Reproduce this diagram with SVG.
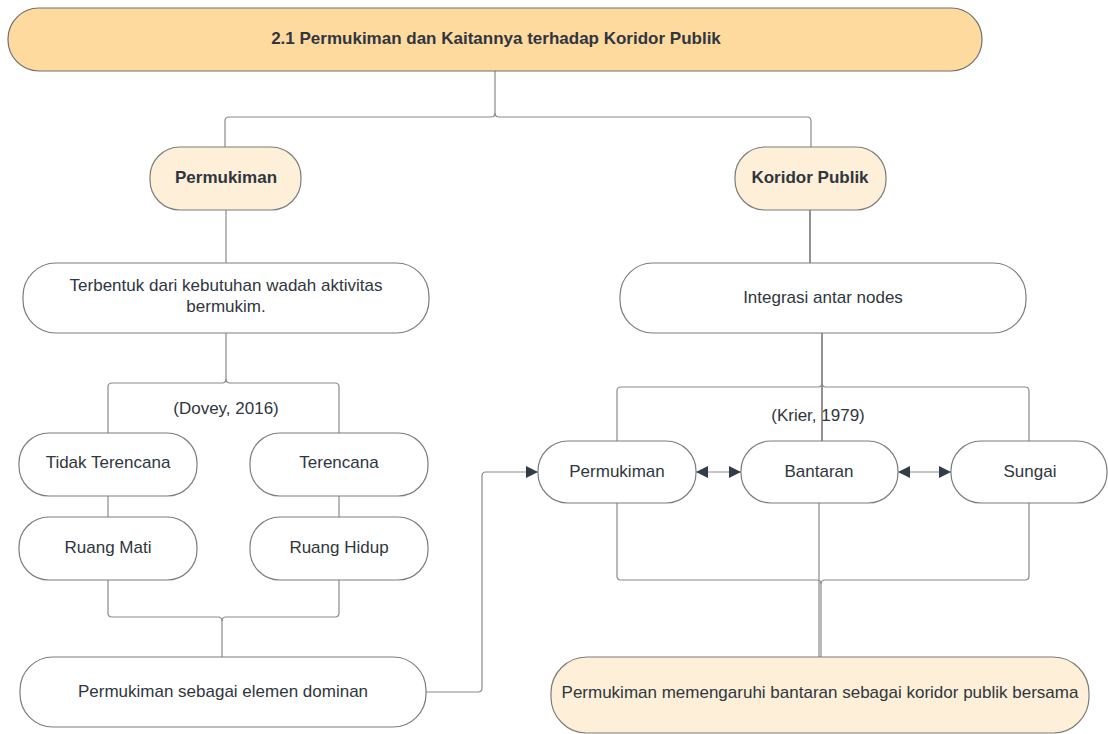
<svg xmlns="http://www.w3.org/2000/svg" width="1108" height="734" viewBox="0 0 1108 734">
  <style>
    .box { fill: #ffffff; stroke: #7d7d7d; stroke-width: 1.2; }
    .head { fill: #FFDA9F; stroke: #6f6f6f; stroke-width: 1.2; }
    .sub { fill: #FEEFD8; stroke: #7d7d7d; stroke-width: 1.2; }
    .t { font-family: "Liberation Sans", Arial, sans-serif; font-size: 17px; fill: #2f3640; text-anchor: middle; }
    .b { font-weight: bold; }
    .ln { fill: none; stroke: #8a8a8a; stroke-width: 1.2; }
    .dk { fill: none; stroke: #4a4a4a; stroke-width: 1.2; }
  </style>
  <defs>
    <marker id="arrow" viewBox="0 0 12 12" refX="12" refY="6" markerWidth="12" markerHeight="12" markerUnits="userSpaceOnUse" orient="auto-start-reverse">
      <path d="M0,0 L12,6 L0,12 z" fill="#333d47"/>
    </marker>
  </defs>
  <rect width="1108" height="734" fill="#ffffff"/>

  <g id="connectors">
    <!-- title to the two main topics -->
    <path class="ln" d="M495,71 V113 Q495,117 491,117 H229 Q225,117 225,121 V147"/>
    <path class="ln" d="M495,113 Q495,117 499,117 H807 Q811,117 811,121 V147"/>
    <!-- left branch -->
    <path class="ln" d="M226,210 V263"/>
    <path class="ln" d="M226,333 V379 Q226,383 222,383 H112 Q108,383 108,387 V433"/>
    <path class="ln" d="M226,379 Q226,383 230,383 H335 Q339,383 339,387 V433"/>
    <path class="ln" d="M108,496 V517"/>
    <path class="ln" d="M339,496 V517"/>
    <path class="ln" d="M108,580 V613 Q108,617 112,617 H218 Q222,617 222,621 V657"/>
    <path class="ln" d="M339,580 V613 Q339,617 335,617 H226 Q222,617 222,621"/>
    <path class="ln" d="M426,692 H478 Q482,692 482,688 V476 Q482,472 486,472 H538" marker-end="url(#arrow)"/>
    <!-- right branch -->
    <path class="dk" d="M810,210 V263"/>
    <path class="dk" d="M822,333 V441"/>
    <path class="ln" d="M617,441 V391 Q617,387 621,387 H818 Q822,387 822,383"/>
    <path class="ln" d="M1029,441 V391 Q1029,387 1025,387 H826 Q822,387 822,383"/>
    <path class="ln" d="M696,472 H741" marker-start="url(#arrow)" marker-end="url(#arrow)"/>
    <path class="ln" d="M898,472 H951" marker-start="url(#arrow)" marker-end="url(#arrow)"/>
    <path class="ln" d="M819,503 V657"/>
    <path class="ln" d="M617,503 V576 Q617,580 621,580 H817 Q821,580 821,584 V657"/>
    <path class="ln" d="M1029,503 V576 Q1029,580 1025,580 H825 Q821,580 821,584"/>
  </g>

  <g id="title">
    <rect class="head" x="8" y="8" width="974" height="63" rx="31"/>
    <text class="t b" x="496" y="44">2.1 Permukiman dan Kaitannya terhadap Koridor Publik</text>
  </g>

  <g id="permukiman">
    <rect class="sub" x="150" y="147" width="151" height="63" rx="30"/>
    <text class="t b" x="226" y="183">Permukiman</text>
  </g>

  <g id="koridor-publik">
    <rect class="sub" x="735" y="147" width="151" height="63" rx="30"/>
    <text class="t b" x="810" y="183">Koridor Publik</text>
  </g>

  <g id="terbentuk">
    <rect class="box" x="23" y="263" width="406" height="70" rx="33"/>
    <text class="t" x="226" y="291">Terbentuk dari kebutuhan wadah aktivitas</text>
    <text class="t" x="226" y="312">bermukim.</text>
  </g>

  <g id="integrasi">
    <rect class="box" x="620" y="263" width="406" height="70" rx="33"/>
    <text class="t" x="823" y="303">Integrasi antar nodes</text>
  </g>

  <g id="dovey-label">
    <text class="t" x="226" y="414">(Dovey, 2016)</text>
  </g>

  <g id="krier-label">
    <text class="t" x="818" y="421">(Krier, 1979)</text>
  </g>

  <g id="tidak-terencana">
    <rect class="box" x="19" y="433" width="178" height="63" rx="30"/>
    <text class="t" x="108" y="468">Tidak Terencana</text>
  </g>

  <g id="terencana">
    <rect class="box" x="250" y="433" width="178" height="63" rx="30"/>
    <text class="t" x="339" y="468">Terencana</text>
  </g>

  <g id="ruang-mati">
    <rect class="box" x="19" y="517" width="178" height="63" rx="30"/>
    <text class="t" x="108" y="553">Ruang Mati</text>
  </g>

  <g id="ruang-hidup">
    <rect class="box" x="250" y="517" width="178" height="63" rx="30"/>
    <text class="t" x="339" y="553">Ruang Hidup</text>
  </g>

  <g id="elemen-dominan">
    <rect class="box" x="20" y="657" width="406" height="70" rx="33"/>
    <text class="t" x="223" y="697">Permukiman sebagai elemen dominan</text>
  </g>

  <g id="node-permukiman">
    <rect class="box" x="538" y="441" width="158" height="62" rx="30"/>
    <text class="t" x="617" y="477">Permukiman</text>
  </g>

  <g id="node-bantaran">
    <rect class="box" x="741" y="441" width="157" height="62" rx="30"/>
    <text class="t" x="819" y="477">Bantaran</text>
  </g>

  <g id="node-sungai">
    <rect class="box" x="951" y="441" width="156" height="62" rx="30"/>
    <text class="t" x="1030" y="477">Sungai</text>
  </g>

  <g id="kesimpulan">
    <rect class="sub" x="551" y="657" width="538" height="76" rx="36"/>
    <text class="t" x="820" y="698">Permukiman memengaruhi bantaran sebagai koridor publik bersama</text>
  </g>
</svg>
